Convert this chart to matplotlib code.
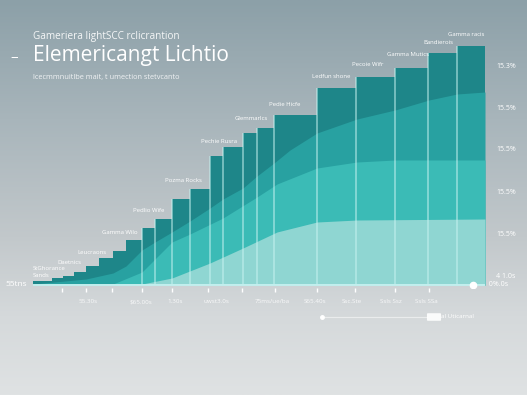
import matplotlib
matplotlib.use("Agg")
import matplotlib.pyplot as plt
import numpy as np
from matplotlib.colors import LinearSegmentedColormap
from matplotlib.lines import Line2D
from matplotlib.patches import FancyBboxPatch

# step bars: edges and heights (chart units, 0 = baseline)
bar_edges = [0, 19, 30, 41, 53, 66, 80, 93, 109, 122, 139, 157, 177, 190,
             210, 224, 241, 284, 323, 362, 395, 424, 452]
bar_heights = [4, 7, 9, 13, 19, 27, 34, 45, 57, 66, 86, 96, 129, 138,
               152, 157, 170, 197, 208, 217, 232, 239]

# smooth layered areas under the bars
upper_x = [0, 53, 80, 93, 109, 122, 139, 157, 177, 190, 210, 224, 241, 257,
           284, 324, 362, 396, 424, 452]
upper_y = [1, 6, 12, 19, 35, 43, 53, 64, 77, 86, 97, 109, 122, 135,
           152, 166, 175, 185, 191, 193]
middle_x = [0, 80, 109, 139, 157, 190, 224, 244, 284, 324, 362, 452]
middle_y = [0, 1, 13, 43, 51, 67, 88, 101, 117, 123, 125, 125]
light_x = [0, 93, 109, 139, 177, 210, 244, 284, 324, 452]
light_y = [0, 0, 1, 7, 22, 37, 53, 63, 65, 66]

# bar labels (text, anchor x, anchor y)
bar_labels = ["StGhorance\nSands", "Daetnics", "Leucraons", "Gamma Wilo",
              "Pedlio Wife", "Pozma Rocks", "Pechie Rusra", "Glemmarlcs",
              "Pedie Hicfe", "Ledfun shone", "Pecoie Wifr", "Gamma Mutics",
              "Bandierois", "Gamma racis"]
label_x = [0, 24, 44, 69, 100, 132, 168, 202, 236, 279, 319, 354, 390, 415]
label_y = [13, 23, 32, 53, 74, 104, 144, 166, 181, 209, 220, 231, 243, 250]

# axes text
tick_x = [29, 53, 79, 109, 139, 175, 209, 242, 284, 322, 362, 396]
xlabel_x = [55, 108, 142, 183, 239, 282, 319, 358, 393]
xlabels = ["55.30s", "$65.00s", "1.30s", "uwst3.0s", "75ms/ue/ba",
           "S65.40s", "Ssc.Ste", "Ssls Ssz", "Ssls SSa"]
ytick_vals = [220, 178, 137, 94, 52, 10, -2]
ylabels = ["15.3%", "15.5%", "15.5%", "15.5%", "15.5%", "4 1.0s", "0%.0s"]

W, H = 527, 395
plt.rcParams['font.family'] = ['Open Sans', 'DejaVu Sans']


def px(x, y):
    return x / W, 1 - y / H


fig = plt.figure(figsize=(W / 100, H / 100), dpi=100)

# background gradient
bg = fig.add_axes([0, 0, 1, 1])
stops = [(0, (140/255, 160/255, 168/255)), (0.3, (168/255, 181/255, 187/255)),
         (0.6, (194/255, 200/255, 203/255)), (0.8, (213/255, 217/255, 219/255)),
         (1, (223/255, 226/255, 227/255))]
cmap = LinearSegmentedColormap.from_list("bg", stops)
bg.imshow(np.linspace(0, 1, 256)[:, None], aspect='auto', cmap=cmap,
          extent=[0, 1, 0, 1])
bg.axis('off')

ax = fig.add_axes([33 / W, (H - 288) / H, 452 / W, 253 / H])
ax.set_facecolor('none')
ax.set_xlim(0, 452)
ax.set_ylim(-3, 250)

widths = np.diff(bar_edges)
ax.bar(bar_edges[:-1], bar_heights, width=widths, align='edge',
       color='#1e8689', linewidth=0, zorder=1)
ax.fill_between(upper_x, 0, upper_y, color='#28a1a1', lw=0, zorder=2)
ax.fill_between(middle_x, 0, middle_y, color='#3bbbb6', lw=0, zorder=3)
ax.fill_between(light_x, 0, light_y, color='#8fd6d2', lw=0, zorder=4)

# light separators on the bar edges
sep_x = bar_edges[8:-1]
sep_top = bar_heights[8:]
ax.vlines(sep_x, 0, sep_top, color='#c8f3f1', alpha=0.55, lw=1.3, zorder=5)

ax.axhline(0, color='#c4efee', lw=1.4, zorder=6)
ax.plot([440], [0], 'o', color='white', ms=4.5, zorder=7)

for t, lx, ly in zip(bar_labels, label_x, label_y):
    ax.text(lx, ly, t, fontsize=4.3, color='white', va='center', ha='left',
            linespacing=1.3, zorder=8)

for s in ax.spines.values():
    s.set_visible(False)

ax.set_xticks(tick_x)
ax.set_xticklabels([])
ax.set_xticks(xlabel_x, minor=True)
ax.set_xticklabels(xlabels, minor=True)
ax.tick_params(axis='x', which='major', length=3, width=1, colors='white',
               direction='out')
ax.tick_params(axis='x', which='minor', length=0, pad=8, labelsize=4.5,
               labelcolor='white')

ax.yaxis.tick_right()
ax.set_yticks(ytick_vals[:-1])
ax.set_yticklabels(ylabels[:-1])
ax.tick_params(axis='y', length=0, pad=8, labelsize=5, labelcolor='white')
ax.text(1.0, 0, "  " + ylabels[-1], transform=ax.get_yaxis_transform(),
        fontsize=5, color='white', va='center', ha='left')
for lab in ax.get_xticklabels(minor=True):
    lab.set_alpha(0.85)

# titles
fig.text(*px(33, 37), "Gameriera lightSCC rclicrantion", fontsize=7.2,
         color='white', alpha=0.9, va='center', ha='left')
fig.text(*px(33, 56), "Elemericangt Lichtio", fontsize=15,
         color='white', va='center', ha='left')
fig.text(*px(10, 57), "–", fontsize=11, color='white', va='center', ha='left')
fig.text(*px(33, 77), "lcecmmnuitlbe mait, t umection stetvcanto",
         fontsize=5.3, color='white', alpha=0.85, va='center', ha='left')
fig.text(*px(5, 285), "55tns", fontsize=6, color='white', va='center',
         ha='left')

# small slider element at the bottom
fig.add_artist(Line2D([325 / W, 427 / W], [1 - 317 / H] * 2, color='white',
                      alpha=0.5, lw=0.8))
fig.add_artist(Line2D([322 / W], [1 - 317 / H], marker='o', color='white',
                      ms=2.5))
fig.add_artist(FancyBboxPatch((428 / W, 1 - 320 / H), 12 / W, 6 / H,
                              boxstyle='round,pad=0.002', fc='white', ec='none',
                              alpha=0.9))
fig.text(*px(441, 317), "al Uticarnal", fontsize=4.5, color='white',
         va='center', ha='left')

fig.savefig("out.png", dpi=100)
